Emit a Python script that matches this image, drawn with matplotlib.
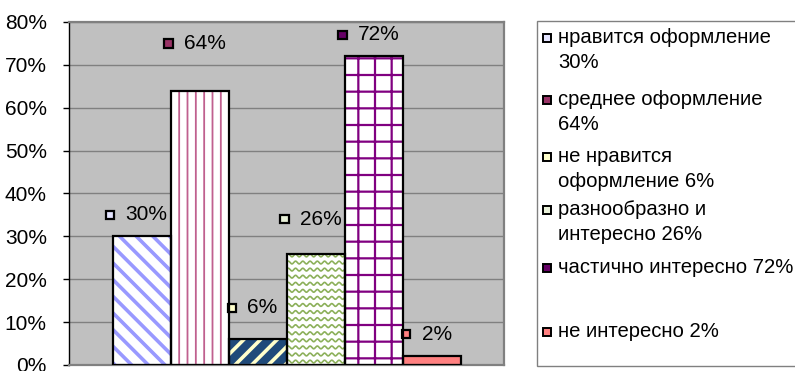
import numpy as np
import matplotlib.pyplot as plt
from matplotlib.patches import Rectangle
from matplotlib.offsetbox import AnnotationBbox, HPacker, DrawingArea, TextArea

plt.rcParams['font.family'] = ['Liberation Sans', 'DejaVu Sans']

# data
legend_labels = ['нравится оформление\n30%', 'среднее оформление\n64%',
                 'не нравится\nоформление 6%', 'разнообразно и\nинтересно 26%',
                 'частично интересно 72%', 'не интересно 2%']
values = [30, 64, 6, 26, 72, 2]
value_labels = ['30%', '64%', '6%', '26%', '72%', '2%']
y_ticks = [0, 10, 20, 30, 40, 50, 60, 70, 80]
y_tick_labels = ['0%', '10%', '20%', '30%', '40%', '50%', '60%', '70%', '80%']

# styles: face, hatch, hatch colour
styles = [('white', '\\\\', '#9999FF'),
          ('white', '||', '#C0608F'),
          ('#1F4A7A', '//', '#FFFFCC'),
          ('white', None, '#8CB05A'),
          ('white', '+', '#800080'),
          ('#FF8080', None, '#FF8080')]
key_colors = ['#E4E4FF', '#993366', '#FFFFCC', '#E8F0D8', '#660066', '#FF8080']
hatch_widths = [2.6, 1.3, 2.6, 1.0, 1.6, 1.0]
label_lift = [5, 11, 7.3, 8, 5, 5.2]
legend_rows = [38, 100, 157, 210, 268, 332]  # pixel y of first line

W, H = 795, 371
fig = plt.figure(figsize=(W / 100, H / 100), dpi=100)
ax = fig.add_axes([69 / W, 1 - 365 / H, 435 / W, 343 / H])
ax.set_facecolor('#C0C0C0')

x = np.arange(len(values))
for i, v in enumerate(values):
    face, hatch, hcol = styles[i]
    plt.rcParams['hatch.linewidth'] = hatch_widths[i]
    bars = ax.bar(x[i], v, width=1, color=face, hatch=hatch, edgecolor=hcol,
                  linewidth=0, zorder=2)
    patch = bars[0]
    if hasattr(patch, 'set_hatch_linewidth'):
        patch.set_hatch_linewidth(hatch_widths[i])
    if i == 3:
        # wavy texture
        xs = np.linspace(x[i] - 0.5, x[i] + 0.5, 300)
        for base in np.arange(0.8, v + 2, 1.65):
            ln, = ax.plot(xs, base + 0.32 * np.sin(2 * np.pi * xs / 0.125),
                          color=hcol, lw=1.2, zorder=3)
            ln.set_clip_path(patch)
    ax.bar(x[i], v, width=1, fill=False, edgecolor='black', linewidth=1.6, zorder=4)

    da = DrawingArea(6, 6)
    da.add_artist(Rectangle((0, 0), 6, 6, facecolor=key_colors[i],
                            edgecolor='black', lw=1.6))
    ta = TextArea(value_labels[i], textprops=dict(fontsize=15))
    box = HPacker(children=[da, ta], align='center', pad=0, sep=8)
    ab = AnnotationBbox(box, (x[i] - 0.08, v + label_lift[i]), frameon=False,
                        box_alignment=(0.5, 0.5), pad=0, annotation_clip=False)
    ax.add_artist(ab)

ax.set_xlim(-1.25, 6.25)
ax.set_ylim(0, 80)
ax.set_yticks(y_ticks)
ax.set_yticklabels(y_tick_labels)
ax.tick_params(axis='y', length=4, width=1, pad=12, labelsize=15, direction='out')
ax.set_xticks([])
ax.yaxis.grid(True, color='#808080', lw=1)
ax.set_axisbelow(True)
ax.spines['left'].set_color('black')
ax.spines['left'].set_linewidth(1)
for s in ['top', 'right', 'bottom']:
    ax.spines[s].set_color('#808080')
    ax.spines[s].set_linewidth(1.6)

# legend
fig.add_artist(Rectangle((537 / W, 1 - 366 / H), 270 / W, 345 / H,
                         transform=fig.transFigure, facecolor='white',
                         edgecolor='#808080', lw=1))
for i, lab in enumerate(legend_labels):
    yc = legend_rows[i]
    fig.add_artist(Rectangle((543 / W, 1 - (yc + 4) / H), 8 / W, 8 / H,
                             transform=fig.transFigure, facecolor=key_colors[i],
                             edgecolor='black', lw=1.4))
    fig.text(558 / W, 1 - (yc - 10) / H, lab, fontsize=14.6, va='top', ha='left',
             linespacing=1.42)

fig.savefig('out.png', dpi=100)
